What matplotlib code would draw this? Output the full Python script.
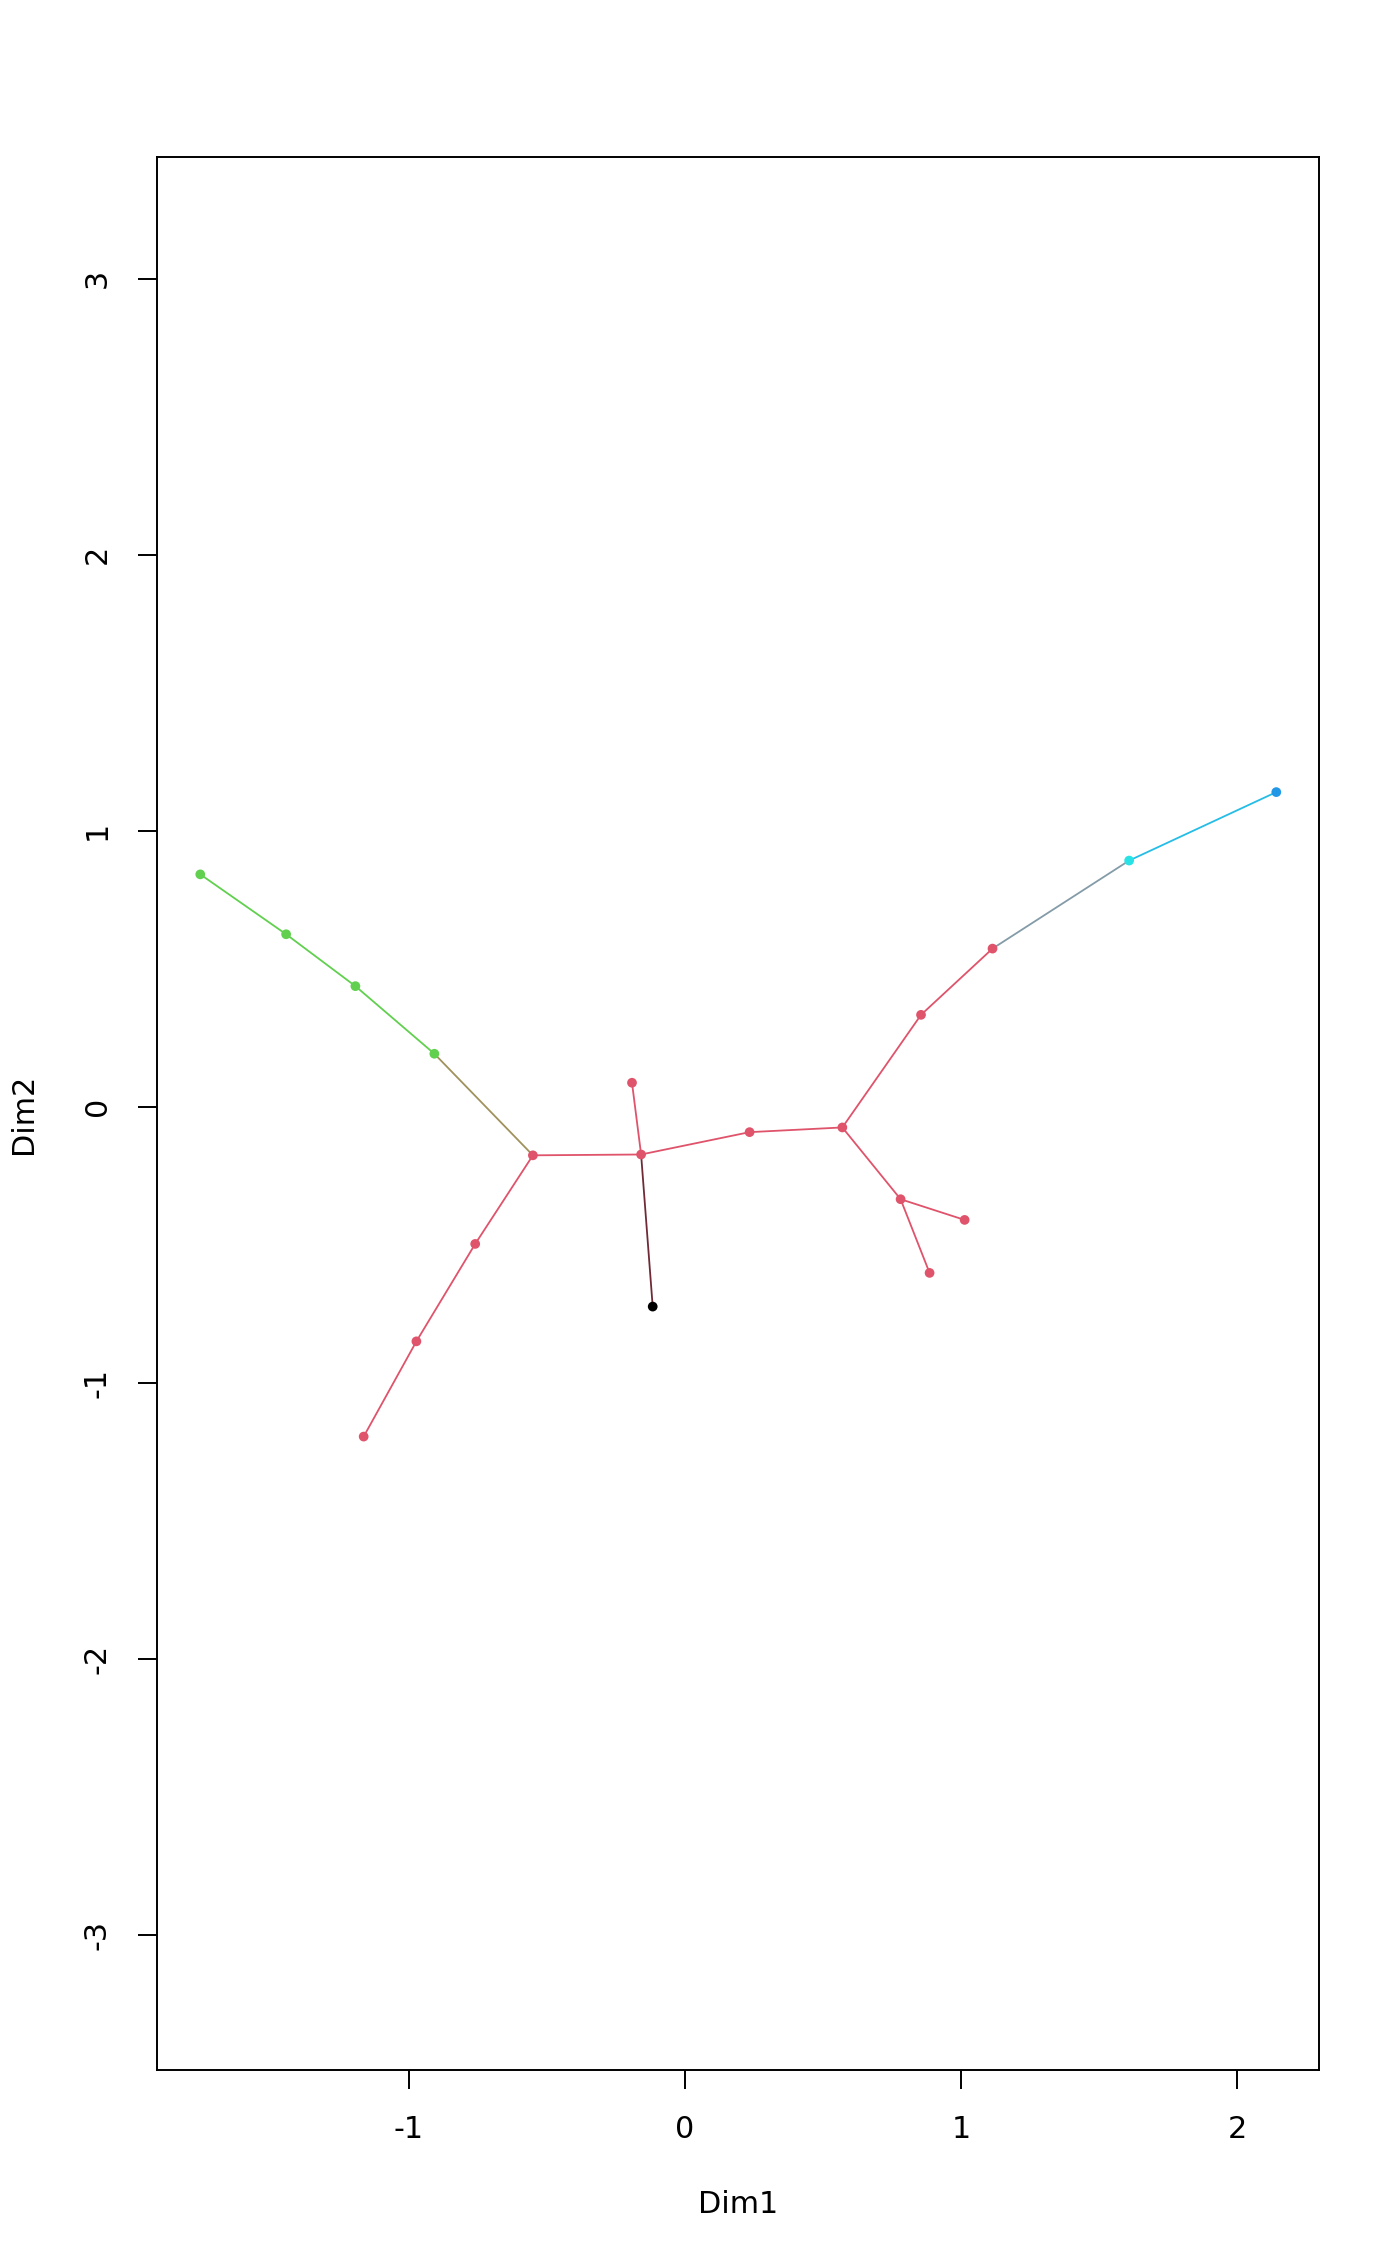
import matplotlib
matplotlib.use("Agg")
import matplotlib.pyplot as plt
import matplotlib.colors as mcolors
import numpy as np

# ---- data ----
node_x = [-1.756, -1.445, -1.194, -0.908, -0.551, -0.760, -0.973, -1.164,
          -0.159, -0.192, -0.117, 0.234, 0.570, 0.781, 1.013, 0.886,
          0.855, 1.114, 1.609, 2.142]
node_y = [0.842, 0.625, 0.437, 0.192, -0.176, -0.497, -0.850, -1.195,
          -0.173, 0.087, -0.724, -0.092, -0.075, -0.335, -0.410, -0.602,
          0.333, 0.573, 0.892, 1.140]
node_group = ["green", "green", "green", "green", "red", "red", "red", "red",
              "red", "red", "black", "red", "red", "red", "red", "red",
              "red", "red", "cyan", "blue"]
edge_from = [0, 1, 2, 3, 4, 5, 6, 4, 8, 8, 8, 11, 12, 13, 13, 12, 16, 17, 18]
edge_to   = [1, 2, 3, 4, 5, 6, 7, 8, 9, 10, 11, 12, 13, 14, 15, 16, 17, 18, 19]
x_ticks = [-1, 0, 1, 2]
y_ticks = [-3, -2, -1, 0, 1, 2, 3]
x_label = "Dim1"
y_label = "Dim2"

palette = {"green": "#61D04F", "red": "#DF536B", "black": "#000000",
           "cyan": "#28E2E5", "blue": "#2297E6"}

W, H = 1400, 2266
fig = plt.figure(figsize=(W / 100, H / 100), dpi=100)
left, right, top, bottom = 157.2, 1318.8, 157.3, 2070.0
ax = fig.add_axes([left / W, 1 - bottom / H, (right - left) / W, (bottom - top) / H])

for a, b in zip(edge_from, edge_to):
    ca = np.array(mcolors.to_rgb(palette[node_group[a]]))
    cb = np.array(mcolors.to_rgb(palette[node_group[b]]))
    ax.plot([node_x[a], node_x[b]], [node_y[a], node_y[b]],
            color=tuple((ca + cb) / 2), lw=1.3, solid_capstyle="round", zorder=2)

ax.scatter(node_x, node_y, s=7.0 ** 2, c=[palette[g] for g in node_group],
           linewidths=0, zorder=3)

ax.set_xlim(-1.912, 2.296)
ax.set_ylim(-3.49, 3.44)
ax.set_xticks(x_ticks)
ax.set_yticks(y_ticks)
ax.set_xticklabels([str(v) for v in x_ticks])
ax.set_yticklabels([str(v) for v in y_ticks], rotation=90, va="center")
ax.tick_params(axis="both", length=13.7, width=1.4, labelsize=21.7, pad=19, colors="black")
for sp in ax.spines.values():
    sp.set_linewidth(1.4)
    sp.set_color("black")

ax.set_xlabel(x_label, fontsize=21.7)
ax.set_ylabel(y_label, fontsize=21.7)
ax.xaxis.set_label_coords(0.5, -0.0704)
ax.xaxis.label.set_va("center")
ax.yaxis.set_label_coords(-0.1153, 0.5)
ax.yaxis.label.set_va("center")

fig.savefig("out.png", dpi=100, facecolor="white")
